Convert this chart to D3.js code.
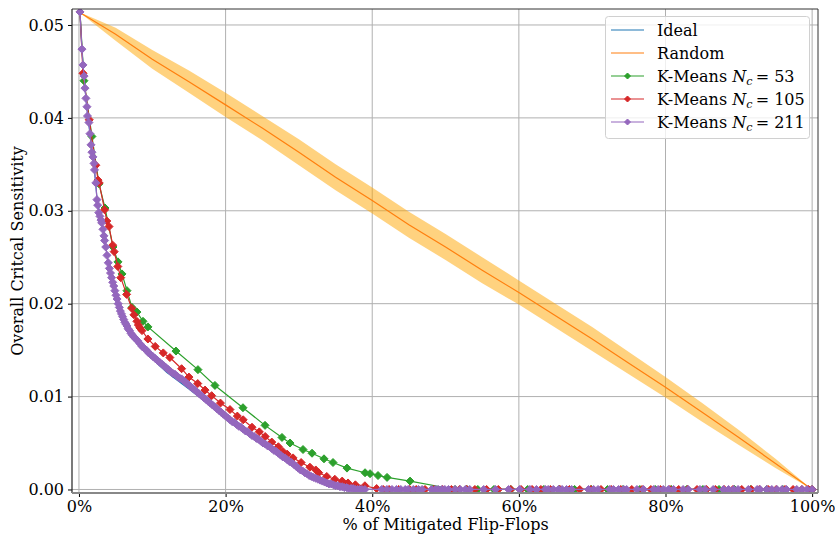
<!DOCTYPE html>
<html>
<head>
<meta charset="utf-8">
<script src="https://cdn.jsdelivr.net/npm/d3@7"></script>
<style>
  body { margin: 0; background: #fff; }
  svg { display: block; }
  text { font-family: "DejaVu Serif", serif; fill: #000; }
</style>
</head>
<body>
<svg id="chart" width="835" height="541"></svg>
<script>
// ---- data -------------------------------------------------------------
const xTicks = [0, 20, 40, 60, 80, 100];
const yTicks = [0, 0.01, 0.02, 0.03, 0.04, 0.05];

// random mitigation order: mean and spread band
const randomX    = [0, 5, 10, 15, 20, 25, 30, 35, 40, 45, 50, 55, 60, 65, 70, 75, 80, 85, 90, 95, 100];
const randomMean = [0.0514, 0.0490, 0.0463, 0.0439, 0.0414, 0.0389, 0.0363, 0.0336, 0.0311, 0.0285, 0.0261,
                    0.0236, 0.0212, 0.0187, 0.0162, 0.0136, 0.0110, 0.0083, 0.0056, 0.0028, 0];
const randomLow  = [0.0514, 0.0483, 0.0453, 0.0427, 0.0401, 0.0376, 0.0349, 0.0322, 0.0297, 0.0271, 0.0247,
                    0.0222, 0.0199, 0.0174, 0.0149, 0.0124, 0.0099, 0.0073, 0.0048, 0.0023, 0];
const randomHigh = [0.0514, 0.0497, 0.0473, 0.0451, 0.0427, 0.0402, 0.0377, 0.0350, 0.0325, 0.0299, 0.0275,
                    0.0250, 0.0225, 0.0200, 0.0175, 0.0148, 0.0121, 0.0093, 0.0064, 0.0033, 0];

// ideal ordering (% mitigated, sensitivity)
const idealCurve = [
  [0.14,0.0514],[0.4,0.0474],[0.55,0.0457],[0.95,0.0421],[1.2,0.0402],[1.5,0.0383],[1.8,0.0362],
  [2.1,0.0344],[2.5,0.0310],[2.9,0.0295],[3.3,0.0281],[3.6,0.0265],[4.0,0.0243],[4.5,0.0227],
  [5.0,0.0210],[5.5,0.0194],[6.0,0.0182],[6.5,0.0173],[7.0,0.0166],[8.0,0.0157],[9.0,0.0149],
  [10,0.0141],[11,0.0133],[12,0.0126],[13,0.0120],[14,0.0114],[15,0.0108],[16,0.0102],[17,0.0097],
  [18,0.0091],[19,0.0085],[20,0.0078],[21,0.0072],[22,0.0066],[23,0.0061],[24,0.0055],[25,0.0050],
  [26,0.0045],[27,0.0040],[28,0.0034],[29,0.0029],[30,0.0023],[31,0.0018],[32,0.0014],[33,0.0010],
  [34,0.0007],[35,0.0004],[36,0.0002],[37,0.0001],[38,0.00003],[39,0],[100,0]
];

// K-Means, 53 clusters
const kmeans53 = [
  [0.14,0.0514],[0.68,0.0440],[1.77,0.0380],[2.73,0.0329],[3.55,0.0303],[4.64,0.0261],[5.32,0.0245],
  [5.87,0.0232],[6.55,0.0214],[7.23,0.0196],[7.91,0.0191],[8.73,0.0181],[9.41,0.0175],[13.23,0.0149],
  [16.23,0.0129],[18.55,0.0112],[22.37,0.0088],[25.38,0.0069],[27.69,0.0056],[28.79,0.0050],
  [30.56,0.0043],[31.79,0.0039],[33.42,0.0033],[34.65,0.0029],[36.56,0.0023],[39.02,0.0018],
  [39.70,0.0017],[40.79,0.0015],[42.02,0.0013],[45.16,0.0009],
  [51.3,0],[52.9,0],[54.4,0],[56.6,0],[58.9,0],[61.2,0],[63.4,0],[65.5,0],[67.6,0],[69.9,0],
  [72.1,0],[74.2,0],[76.5,0],[78.6,0],[80.8,0],[82.9,0],[85.1,0],[87.3,0],[89.4,0],[91.6,0],
  [93.8,0],[96.0,0],[100,0]
];

// K-Means, 105 clusters
const kmeans105 = [
  [0.14,0.0514],[0.55,0.0448],[1.4,0.0398],[2.3,0.0349],[2.6,0.0333],[2.75,0.0330],[3.5,0.0301],
  [3.8,0.0289],[4.1,0.0283],[4.6,0.0263],[4.8,0.0256],[5.3,0.0240],[5.7,0.0228],[6.5,0.0210],
  [7.2,0.0195],[7.5,0.0188],[7.9,0.0181],[8.1,0.0177],[8.3,0.0174],[8.6,0.0171],[9.4,0.0162],
  [10.4,0.0154],[11.5,0.0147],[12.4,0.0142],[14.0,0.0130],[15.0,0.0121],[16.2,0.0114],[17.2,0.0107],
  [18.1,0.0101],[19.3,0.0093],[20.6,0.0086],[21.6,0.0079],[22.4,0.0075],[23.6,0.0067],[24.6,0.0062],
  [25.4,0.0057],[26.3,0.0051],[27.2,0.0046],[27.8,0.0041],[28.4,0.0038],[29.2,0.0034],[30.3,0.0029],
  [31.5,0.0024],[32.3,0.0021],[32.7,0.0018],[33.8,0.0014],[34.9,0.0011],[35.9,0.0009],[36.7,0.0007],
  [37.7,0.0005],[39.0,0.0004],[40.6,0.0001],
  [41.5,0],[42.3,0],[43.6,0],[45.1,0],[46.0,0],[47.2,0],[48.4,0],[49.6,0],[50.8,0],[51.9,0],[52.9,0],
  [54.0,0],[55.6,0],[57.2,0],[58.9,0],[60.3,0],[61.8,0],[63.0,0],[64.3,0],[65.6,0],[66.9,0],[68.3,0],
  [69.8,0],[71.2,0],[72.6,0],[73.9,0],[75.4,0],[76.8,0],[78.0,0],[79.3,0],[80.6,0],[81.8,0],[83.0,0],
  [84.3,0],[85.6,0],[86.8,0],[88.0,0],[89.2,0],[90.4,0],[91.7,0],[92.8,0],[94.0,0],[95.1,0],[96.3,0],
  [97.4,0],[98.6,0],[99.5,0],[100,0]
];

// K-Means, 211 clusters
const kmeans211 = [
  [0.14,0.0514],[0.41,0.0474],[0.55,0.0457],[0.70,0.0445],[0.82,0.0432],[0.95,0.0421],[1.09,0.0412],
  [1.16,0.0402],[1.36,0.0395],[1.50,0.0383],[1.64,0.0371],[1.77,0.0363],[1.91,0.0358],[2.05,0.0351],
  [2.12,0.0344],[2.30,0.0330],[2.45,0.0312],[2.55,0.0306],[2.70,0.0298],[2.86,0.0294],[3.00,0.0290],
  [3.10,0.0287],[3.27,0.0280],[3.41,0.0273],[3.50,0.0268],[3.65,0.0261],[3.82,0.0252],[4.00,0.0244],
  [4.15,0.0238],[4.30,0.0233],[4.45,0.0228],[4.60,0.0223],[4.75,0.0219],[4.90,0.0214],[5.05,0.0209],
  [5.20,0.0205],[5.35,0.0200],[5.50,0.0196],[5.65,0.0192],[5.80,0.0189],[5.95,0.0186],[6.10,0.0183],
  [6.25,0.0180],[6.40,0.0178],[6.55,0.0176],[6.70,0.0173],[6.90,0.0171],[7.10,0.0168],[7.30,0.0166],
  [7.50,0.0164],[7.75,0.0162],[8.00,0.0160],[8.30,0.0157],[8.60,0.0154],[8.90,0.0152],[9.20,0.0150],
  [9.50,0.0147],[9.80,0.0145],[10.1,0.0143],[10.4,0.0141],[10.7,0.0139],[11.0,0.0137],[11.3,0.0135],
  [11.6,0.0133],[11.9,0.0131],[12.2,0.0129],[12.5,0.0127],[12.8,0.0125],[13.1,0.0124],[13.4,0.0122],
  [13.7,0.0120],[14.0,0.0119],[14.3,0.0117],[14.6,0.0115],[14.9,0.0113],[15.2,0.0111],[15.5,0.0109],
  [15.8,0.0107],[16.1,0.0105],[16.4,0.0103],[16.7,0.0101],[17.0,0.0099],[17.3,0.0097],[17.6,0.0095],
  [17.9,0.0093],[18.2,0.0091],[18.5,0.0089],[18.8,0.0087],[19.1,0.0085],[19.4,0.0083],[19.7,0.0081],
  [20.0,0.0079],[20.3,0.0077],[20.6,0.0075],[20.9,0.0073],[21.2,0.0072],[21.5,0.0070],[21.8,0.0068],
  [22.1,0.0067],[22.4,0.0065],[22.7,0.0063],[23.0,0.0062],[23.3,0.0060],[23.6,0.0058],[23.9,0.0057],
  [24.2,0.0055],[24.5,0.0054],[24.8,0.0052],[25.1,0.0050],[25.4,0.0049],[25.7,0.0047],[26.0,0.0046],
  [26.3,0.0044],[26.6,0.0042],[26.9,0.0041],[27.2,0.0039],[27.5,0.0037],[27.8,0.0035],[28.1,0.0034],
  [28.4,0.0032],[28.7,0.0030],[29.0,0.0029],[29.3,0.0027],[29.6,0.0025],[29.9,0.0023],[30.2,0.0021],
  [30.5,0.0020],[30.8,0.0018],[31.1,0.0017],[31.4,0.0015],[31.7,0.0014],[32.0,0.0013],[32.3,0.0012],
  [32.6,0.0011],[32.9,0.0010],[33.2,0.0009],[33.5,0.0008],[33.8,0.0007],[34.1,0.0006],[34.4,0.0006],
  [34.7,0.0005],[35.0,0.0004],[35.3,0.0004],[35.6,0.0003],[35.9,0.0003],[36.2,0.0002],[36.5,0.0002],
  [36.8,0.0001],[37.1,0.0001],[37.4,0.0001],[37.7,0],[38.0,0],[38.3,0],[38.6,0],[39.0,0],
  [41.3,0],[42.0,0],[42.7,0],[43.3,0],[43.9,0],[44.5,0],[44.9,0],[45.6,0],[46.3,0],[46.8,0],[48.1,0],
  [48.6,0],[49.0,0],[49.5,0],[49.9,0],[50.4,0],[51.3,0],[52.0,0],[52.7,0],[53.3,0],[55.2,0],[56.8,0],
  [58.6,0],[60.1,0],[61.5,0],[62.4,0],[63.6,0],[64.0,0],[64.7,0],[65.4,0],[65.9,0],[66.5,0],[67.2,0],
  [69.5,0],[70.2,0],[70.8,0],[72.4,0],[72.9,0],[73.6,0],[74.3,0],[74.7,0],[76.1,0],[77.0,0],[78.4,0],
  [79.0,0],[79.7,0],[80.4,0],[81.1,0],[82.4,0],[83.1,0],[84.7,0],[85.4,0],[86.5,0],[87.9,0],[88.6,0],
  [89.3,0],[89.9,0],[91.3,0],[92.5,0],[92.9,0],[93.8,0],[94.5,0],[95.2,0],[95.9,0],[96.5,0],[97.9,0],
  [98.6,0],[99.3,0],[100,0]
];

const kmeansSeries = [
  { n: 53,  data: kmeans53,  color: "#2ca02c" },
  { n: 105, data: kmeans105, color: "#d62728" },
  { n: 211, data: kmeans211, color: "#9467bd" }
];

// ---- layout -------------------------------------------------------------
const svg = d3.select("#chart");
const plot = { left: 72, right: 818, top: 9, bottom: 493 };
const FONT = 16;

const x = d3.scaleLinear().domain([-0.95, 100.8]).range([plot.left, plot.right]);
const y = d3.scaleLinear().domain([-0.00038, 0.05172]).range([plot.bottom, plot.top]);

svg.append("defs").append("clipPath").attr("id", "plotClip")
  .append("rect").attr("x", plot.left).attr("y", plot.top)
  .attr("width", plot.right - plot.left).attr("height", plot.bottom - plot.top);

// grid
const grid = svg.append("g");
grid.selectAll(".gx").data(xTicks).join("line")
  .attr("x1", d => x(d)).attr("x2", d => x(d))
  .attr("y1", plot.top).attr("y2", plot.bottom)
  .attr("stroke", "#b0b0b0").attr("stroke-width", 1);
grid.selectAll(".gy").data(yTicks).join("line")
  .attr("x1", plot.left).attr("x2", plot.right)
  .attr("y1", d => y(d)).attr("y2", d => y(d))
  .attr("stroke", "#b0b0b0").attr("stroke-width", 1);

const marks = svg.append("g").attr("clip-path", "url(#plotClip)");
const line = d3.line().x(d => x(d[0])).y(d => y(d[1]));

// ideal
marks.append("path").datum(idealCurve).attr("d", line)
  .attr("fill", "none").attr("stroke", "#1f77b4").attr("stroke-width", 1.2);

// random band and mean
const band = d3.area()
  .x((d, i) => x(randomX[i]))
  .y0((d, i) => y(randomLow[i]))
  .y1((d, i) => y(randomHigh[i]));
marks.append("path").datum(randomX).attr("d", band)
  .attr("fill", "#ffa500").attr("fill-opacity", 0.5);
marks.append("path").datum(randomX.map((v, i) => [v, randomMean[i]])).attr("d", line)
  .attr("fill", "none").attr("stroke", "#ff7f0e").attr("stroke-width", 1.2);

// diamond marker (square rotated 45 degrees)
const diamond = r => `M0,${-r}L${r},0L0,${r}L${-r},0Z`;

kmeansSeries.forEach(s => {
  const g = marks.append("g");
  g.append("path").datum(s.data).attr("d", line)
    .attr("fill", "none").attr("stroke", s.color).attr("stroke-width", 1.2);
  g.selectAll("path.m").data(s.data).join("path").attr("class", "m")
    .attr("d", diamond(4))
    .attr("transform", d => `translate(${x(d[0])},${y(d[1])})`)
    .attr("fill", s.color).attr("stroke", s.color).attr("stroke-width", 1);
});

// axes
const xAxis = svg.append("g").attr("transform", `translate(0,${plot.bottom})`)
  .call(d3.axisBottom(x).tickValues(xTicks).tickFormat(d => d + "%").tickSize(4).tickPadding(4));
const yAxis = svg.append("g").attr("transform", `translate(${plot.left},0)`)
  .call(d3.axisLeft(y).tickValues(yTicks).tickFormat(d3.format(".2f")).tickSize(4).tickPadding(4));
[xAxis, yAxis].forEach(a => {
  a.select(".domain").remove();
  a.selectAll("text").attr("font-family", "DejaVu Serif").attr("font-size", FONT).attr("fill", "#000");
  a.selectAll("line").attr("stroke", "#000");
});

// spines
svg.append("line").attr("x1", plot.left).attr("x2", plot.right).attr("y1", plot.top).attr("y2", plot.top)
  .attr("stroke", "#333").attr("stroke-width", 1);
svg.append("line").attr("x1", plot.right).attr("x2", plot.right).attr("y1", plot.top).attr("y2", plot.bottom)
  .attr("stroke", "#333").attr("stroke-width", 1);
svg.append("line").attr("x1", plot.left).attr("x2", plot.left).attr("y1", plot.top).attr("y2", plot.bottom)
  .attr("stroke", "#222").attr("stroke-width", 1.2);
svg.append("line").attr("x1", plot.left).attr("x2", plot.right).attr("y1", plot.bottom).attr("y2", plot.bottom)
  .attr("stroke", "#888").attr("stroke-width", 2);

// axis titles
svg.append("text").attr("x", (x(0) + x(100)) / 2).attr("y", 530)
  .attr("text-anchor", "middle").attr("font-size", FONT)
  .text("% of Mitigated Flip-Flops");
svg.append("text").attr("transform", `translate(23,${(plot.top + plot.bottom) / 2}) rotate(-90)`)
  .attr("text-anchor", "middle").attr("font-size", FONT)
  .text("Overall Critcal Sensitivity");

// legend
const legend = svg.append("g");
legend.append("rect").attr("x", 605.5).attr("y", 16.5).attr("width", 204).attr("height", 122)
  .attr("rx", 3).attr("fill", "#fff").attr("fill-opacity", 0.8)
  .attr("stroke", "#d0d0d0").attr("stroke-width", 1);

const legendRows = [
  { label: "Ideal", color: "#1f77b4", marker: false },
  { label: "Random", color: "#ff7f0e", marker: false },
  ...kmeansSeries.map(s => ({ label: "K-Means", n: s.n, color: s.color, marker: true }))
];
legendRows.forEach((r, i) => {
  const cy = 30 + i * 23;
  legend.append("line").attr("x1", 611).attr("x2", 644).attr("y1", cy).attr("y2", cy)
    .attr("stroke", r.color).attr("stroke-width", 1.2);
  if (r.marker) {
    legend.append("path").attr("d", diamond(3)).attr("transform", `translate(627.5,${cy})`)
      .attr("fill", r.color).attr("stroke", r.color).attr("stroke-width", 1);
  }
  const t = legend.append("text").attr("x", 657).attr("y", cy + 5.5).attr("font-size", FONT);
  if (r.n === undefined) {
    t.text(r.label);
  } else {
    t.append("tspan").text(r.label + " ");
    t.append("tspan").attr("font-style", "italic").text("N");
    t.append("tspan").attr("font-style", "italic").attr("font-size", FONT * 0.7).attr("dy", 3).text("c");
    t.append("tspan").attr("dy", -3).text("\u2009= " + r.n);
  }
});
</script>
</body>
</html>
